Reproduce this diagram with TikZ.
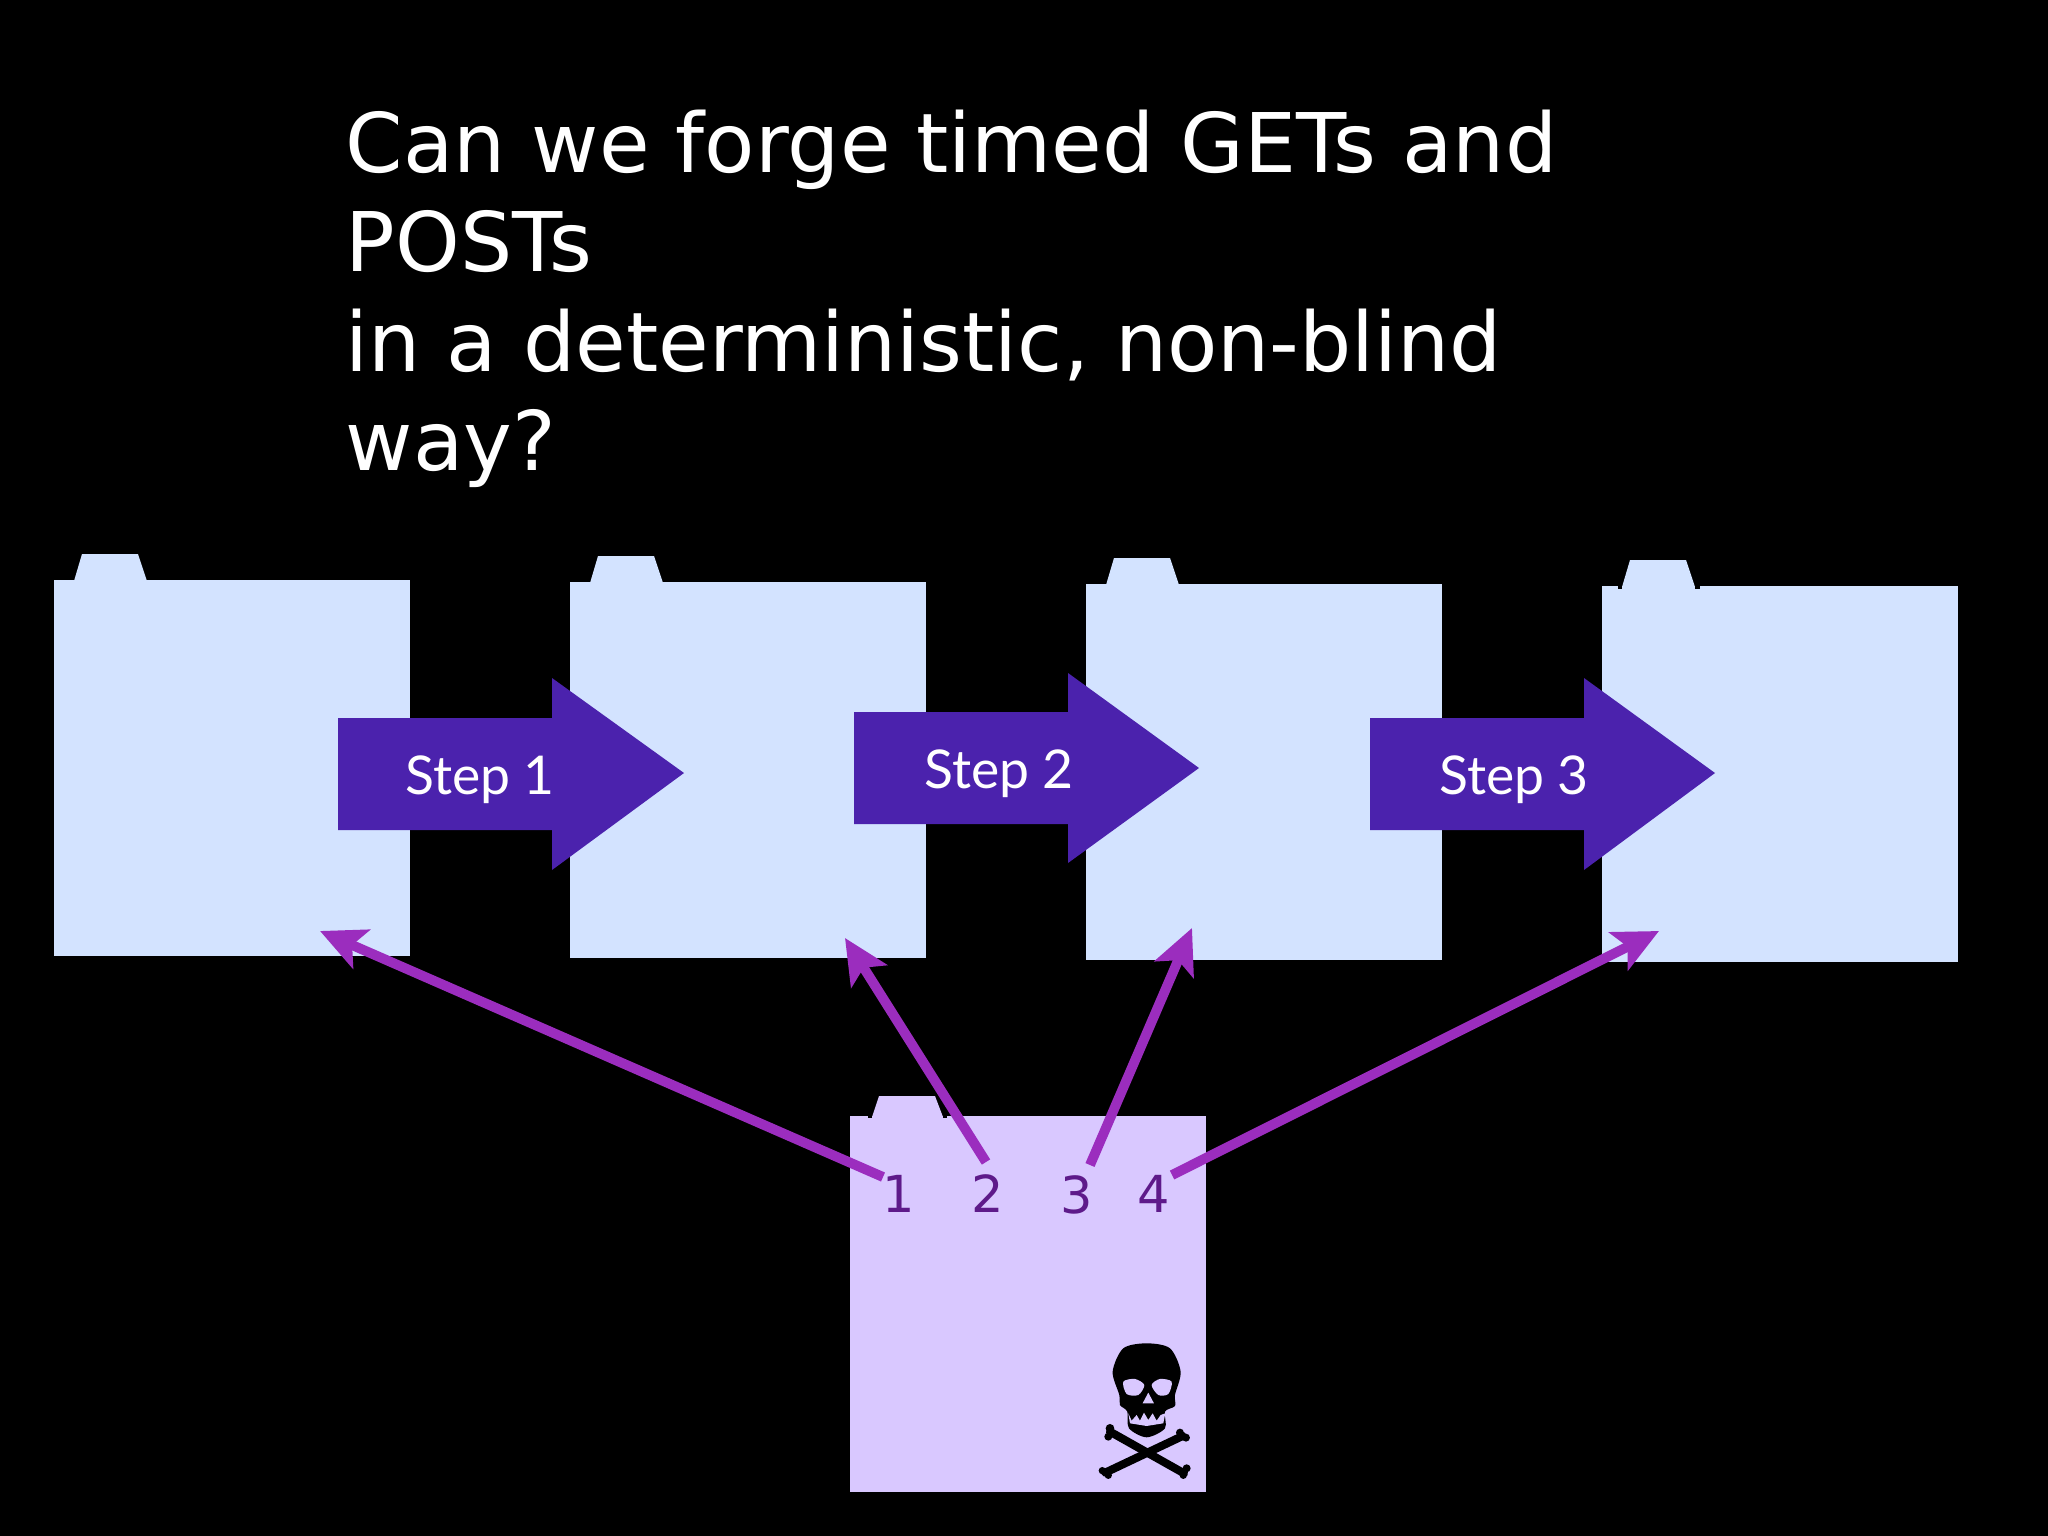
\documentclass[tikz,border=0pt]{standalone}
\usepackage{fontspec}
\usepackage{tikz}
\usetikzlibrary{arrows.meta}
\setmainfont{DejaVu Sans}
\newfontfamily\stepfont{Lato}
\definecolor{pageblue}{HTML}{D3E3FF}
\definecolor{pagelilac}{HTML}{D9C8FF}
\definecolor{stepviolet}{HTML}{4B22AD}
\definecolor{linkviolet}{HTML}{9B2DBE}
\definecolor{digitviolet}{HTML}{5E1A8A}
\tikzset{
	pageblue box/.style={fill=pageblue,inner sep=0pt,minimum width=3.56cm,minimum height=3.76cm},
	pagelilac box/.style={fill=pagelilac,inner sep=0pt,minimum width=3.56cm,minimum height=3.76cm},
	steptext/.style={text=white,inner sep=0pt,font=\stepfont\fontsize{15.2}{18}\selectfont},
	digit/.style={text=digitviolet,inner sep=0pt,font=\fontsize{14.5}{17}\selectfont},
	link/.style={draw=linkviolet,line width=2.8pt,-{Stealth[length=0.45cm,width=0.42cm,inset=0.1cm]}}
}
\begin{document}
\begin{tikzpicture}[x=0.01cm,y=0.01cm]
	\fill [black] (0,0) rectangle (2048,-1536);
	% title
	\node [anchor=north west,align=left,inner sep=0pt,text=white,font=\fontsize{23.4}{28.3}\selectfont] (title) at (345,-109)
		{Can we forge timed GETs and\\POSTs\\in a deterministic, non-blind\\way?};
	% pages
	\node [pageblue box] (page1) at (232,-768) {};
	\fill [pageblue] (74,-581) -- (82,-554) -- (138,-554) -- (147,-581) -- cycle;
	\node [pageblue box] (page2) at (748,-770) {};
	\fill [pageblue] (590,-583) -- (598,-556) -- (654,-556) -- (663,-583) -- cycle;
	\node [pageblue box] (page3) at (1264,-772) {};
	\fill [pageblue] (1106,-585) -- (1114,-558) -- (1170,-558) -- (1179,-585) -- cycle;
	\node [pageblue box] (page4) at (1780,-774) {};
	\fill [pageblue] (1622,-587) -- (1630,-560) -- (1686,-560) -- (1695,-587) -- cycle;
	\fill [black] (1618,-586) rectangle (1622,-589);
	\fill [black] (1695,-586) rectangle (1700,-589);
	\node [pagelilac box] (evil) at (1028,-1304) {};
	\fill [pagelilac] (872,-1117) -- (879,-1096) -- (935,-1096) -- (943,-1117) -- cycle;
	\fill [black] (868,-1116) rectangle (872,-1118);
	\fill [black] (943,-1116) rectangle (947,-1118);
	% steps
	\fill [stepviolet] (338,-718) -- (552,-718) -- (552,-678) -- (684,-773) -- (552,-870) -- (552,-830) -- (338,-830) -- cycle;
	\node [steptext] (step1) at (480,-780) {Step 1};
	\fill [stepviolet] (854,-712) -- (1068,-712) -- (1068,-673) -- (1199,-768) -- (1068,-863) -- (1068,-824) -- (854,-824) -- cycle;
	\node [steptext] (step2) at (999,-774) {Step 2};
	\fill [stepviolet] (1370,-718) -- (1584,-718) -- (1584,-678) -- (1715,-773) -- (1584,-870) -- (1584,-830) -- (1370,-830) -- cycle;
	\node [steptext] (step3) at (1514,-780) {Step 3};
	% digits
	\node [digit] (one) at (899,-1194) {1};
	\node [digit] (two) at (988,-1194) {2};
	\node [digit] (three) at (1077,-1195) {3};
	\node [digit] (four) at (1154,-1194) {4};
	\coordinate (hit1) at (320,-931);
	\coordinate (hit2) at (845,-938);
	\coordinate (hit3) at (1192,-928);
	\coordinate (hit4) at (1659,-931);
	\coordinate (from1) at (883,-1177);
	\coordinate (from2) at (986,-1162);
	\coordinate (from3) at (1090,-1165);
	\coordinate (from4) at (1172,-1175);
	\draw [link] (from1) -- (hit1);
	\draw [link] (from2) -- (hit2);
	\draw [link] (from3) -- (hit3);
	\draw [link] (from4) -- (hit4);
	% skull
	\begin{scope}[shift={(830,-1080)},scale=0.3333]
		\draw [black,line width=2.3pt,line cap=round] (840,-1055) -- (1062,-1180);
		\draw [black,line width=2.3pt,line cap=round] (1058,-1068) -- (826,-1178);
		\fill [black] (840,-1045) circle (13);
		\fill [black] (835,-1070) circle (12);
		\fill [black] (1050,-1058) circle (12);
		\fill [black] (1068,-1073) circle (12);
		\fill [black] (1070,-1165) circle (12);
		\fill [black] (1060,-1186) circle (11);
		\fill [black] (817,-1172) circle (11);
		\fill [black] (835,-1186) circle (11);
		\fill [black] plot [smooth cycle] coordinates {(950,-790) (1020,-805) (1052,-875) (1035,-945) (1035,-978) (1005,-995) (1005,-1045) (950,-1072) (897,-1045) (892,-995) (870,-975) (868,-945) (848,-875) (880,-805)};
		\fill [pagelilac] plot [smooth cycle] coordinates {(880,-905) (915,-897) (943,-915) (925,-945) (890,-942)};
		\fill [pagelilac] plot [smooth cycle] coordinates {(1025,-905) (990,-897) (965,-915) (985,-945) (1015,-942)};
		\fill [pagelilac] (955,-938) -- (972,-970) -- (938,-970) -- cycle;
		\fill [pagelilac] (895,-1000) -- (905,-1022) -- (920,-1005) -- (930,-1022) -- (942,-998) -- (955,-1020) -- (968,-1000) -- (980,-1022) -- (992,-1005) -- (1006,-1000) -- (1000,-1030) -- (950,-1038) -- (900,-1030) -- cycle;
	\end{scope}
\end{tikzpicture}
\end{document}
